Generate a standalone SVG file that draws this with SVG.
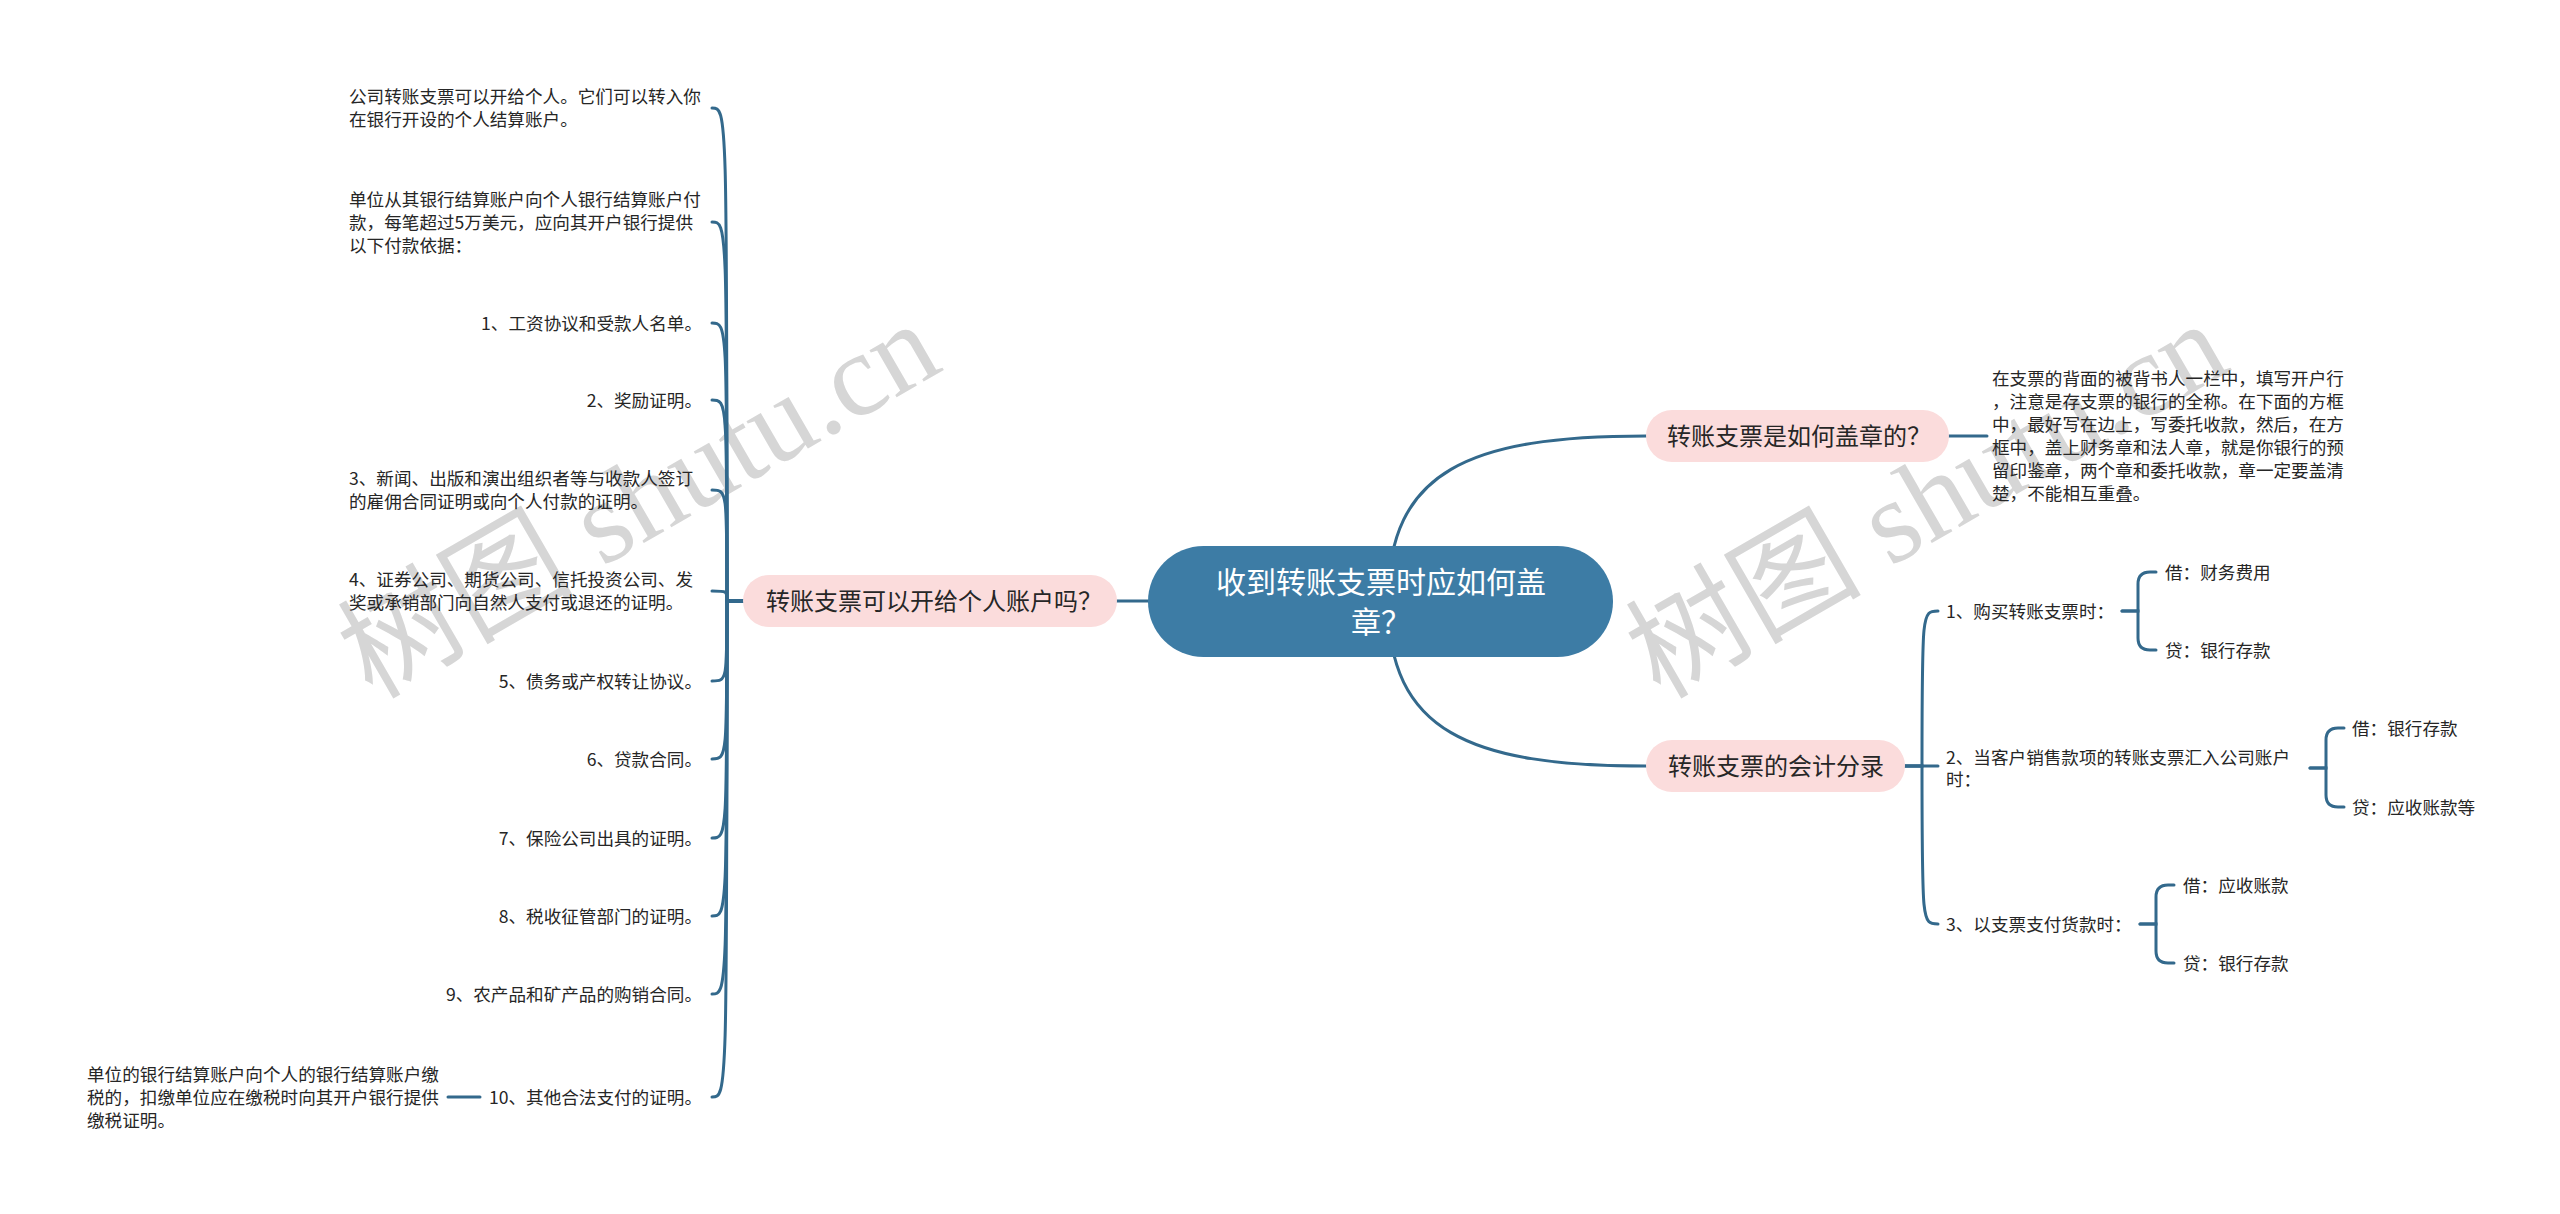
<svg xmlns="http://www.w3.org/2000/svg" width="2560" height="1214" viewBox="0 0 2560 1214">
<style>
.t{font-family:"Noto Sans CJK SC","Noto Sans",sans-serif;font-size:17.6px;fill:#262626}
.e{text-anchor:end}
.pn{fill:#fbdcdc}
.pt{font-family:"Noto Sans CJK SC","Noto Sans",sans-serif;font-size:24px;fill:#262626;text-anchor:middle}
.ct{font-family:"Noto Sans CJK SC","Noto Sans",sans-serif;font-size:30px;fill:#ffffff;text-anchor:middle}
.c{fill:none;stroke:#33698c;stroke-width:3;stroke-linecap:round}
.wm{font-family:"Liberation Serif","Noto Sans CJK SC",serif;font-size:118px;fill:#d6d6d6}
</style>
<rect width="2560" height="1214" fill="#ffffff"/>
<g id="watermarks">
<text class="wm" transform="translate(372,700) rotate(-30)">树图 shutu.cn</text>
<text class="wm" transform="translate(1660,700) rotate(-30)">树图 shutu.cn</text>
</g>
<g id="connectors">
<path class="c" d="M1148,601 H1117"/>
<path class="c" d="M1388,601 C1388,470 1470,436 1646,436"/>
<path class="c" d="M1388,601 C1388,732 1470,766 1646,766"/>
<path class="c" d="M743,601 H727 C727,108 727,108 712,108"/>
<path class="c" d="M743,601 H727 C727,222 727,222 712,222"/>
<path class="c" d="M743,601 H727 C727,323 727,323 712,323"/>
<path class="c" d="M743,601 H727 C727,400 727,400 712,400"/>
<path class="c" d="M743,601 H727 C727,490 727,490 712,490"/>
<path class="c" d="M743,601 H727 C727,591 727,591 712,591"/>
<path class="c" d="M743,601 H727 C727,681 727,681 712,681"/>
<path class="c" d="M743,601 H727 C727,759 727,759 712,759"/>
<path class="c" d="M743,601 H727 C727,838 727,838 712,838"/>
<path class="c" d="M743,601 H727 C727,916 727,916 712,916"/>
<path class="c" d="M743,601 H727 C727,994 727,994 712,994"/>
<path class="c" d="M743,601 H727 C727,1097 727,1097 712,1097"/>
<path class="c" d="M480,1097 H448"/>
<path class="c" d="M1949,436 H1987"/>
<path class="c" d="M1905,766 H1922 C1922,611 1922,611 1938,611"/>
<path class="c" d="M1905,766 H1938"/>
<path class="c" d="M1905,766 H1922 C1922,924 1922,924 1938,924"/>
<path class="c" d="M2122,611 H2138 V584 Q2138,572 2150,572 H2156"/>
<path class="c" d="M2122,611 H2138 V638 Q2138,650 2150,650 H2156"/>
<path class="c" d="M2310,768 H2326 V740 Q2326,728 2338,728 H2344"/>
<path class="c" d="M2310,768 H2326 V795 Q2326,807 2338,807 H2344"/>
<path class="c" d="M2140,924 H2156 V897 Q2156,885 2168,885 H2174"/>
<path class="c" d="M2140,924 H2156 V951 Q2156,963 2168,963 H2174"/>
</g>
<g id="center">
<rect x="1148" y="546" width="465" height="111" rx="55.5" fill="#3d7ca5"/>
<text class="ct" x="1381" y="593">收到转账支票时应如何盖</text>
<text class="ct" x="1381" y="633">章？</text>
</g>
<g id="node-left">
<rect class="pn" x="743" y="575" width="374" height="52" rx="26"/>
<text class="pt" x="934" y="610">转账支票可以开给个人账户吗？</text>
</g>
<g id="node-right1">
<rect class="pn" x="1646" y="410" width="303" height="52" rx="26"/>
<text class="pt" x="1799" y="445">转账支票是如何盖章的？</text>
</g>
<g id="node-right2">
<rect class="pn" x="1646" y="740" width="259" height="52" rx="26"/>
<text class="pt" x="1776" y="775">转账支票的会计分录</text>
</g>
<g id="left-a"><text class="t" x="349" y="103">公司转账支票可以开给个人。它们可以转入你</text><text class="t" x="349" y="126">在银行开设的个人结算账户。</text></g>
<g id="left-b"><text class="t" x="349" y="206">单位从其银行结算账户向个人银行结算账户付</text><text class="t" x="349" y="229">款，每笔超过5万美元，应向其开户银行提供</text><text class="t" x="349" y="252">以下付款依据：</text></g>
<g id="left-1"><text class="t e" x="702" y="330">1、工资协议和受款人名单。</text></g>
<g id="left-2"><text class="t e" x="702" y="407">2、奖励证明。</text></g>
<g id="left-3"><text class="t" x="349" y="485">3、新闻、出版和演出组织者等与收款人签订</text><text class="t" x="349" y="508">的雇佣合同证明或向个人付款的证明。</text></g>
<g id="left-4"><text class="t" x="349" y="586">4、证券公司、期货公司、信托投资公司、发</text><text class="t" x="349" y="609">奖或承销部门向自然人支付或退还的证明。</text></g>
<g id="left-5"><text class="t e" x="702" y="688">5、债务或产权转让协议。</text></g>
<g id="left-6"><text class="t e" x="702" y="766">6、贷款合同。</text></g>
<g id="left-7"><text class="t e" x="702" y="845">7、保险公司出具的证明。</text></g>
<g id="left-8"><text class="t e" x="702" y="923">8、税收征管部门的证明。</text></g>
<g id="left-9"><text class="t e" x="702" y="1001">9、农产品和矿产品的购销合同。</text></g>
<g id="left-10"><text class="t e" x="702" y="1104">10、其他合法支付的证明。</text></g>
<g id="left-10-note"><text class="t" x="87" y="1081">单位的银行结算账户向个人的银行结算账户缴</text><text class="t" x="87" y="1104">税的，扣缴单位应在缴税时向其开户银行提供</text><text class="t" x="87" y="1127">缴税证明。</text></g>
<g id="right1-note"><text class="t" x="1992" y="385">在支票的背面的被背书人一栏中，填写开户行</text><text class="t" x="1992" y="408">，注意是存支票的银行的全称。在下面的方框</text><text class="t" x="1992" y="431">中，最好写在边上，写委托收款，然后，在方</text><text class="t" x="1992" y="454">框中，盖上财务章和法人章，就是你银行的预</text><text class="t" x="1992" y="477">留印鉴章，两个章和委托收款，章一定要盖清</text><text class="t" x="1992" y="500">楚，不能相互重叠。</text></g>
<g id="sub-1"><text class="t" x="1946" y="618">1、购买转账支票时：</text></g>
<g id="sub-1a"><text class="t" x="2165" y="579">借：财务费用</text></g>
<g id="sub-1b"><text class="t" x="2165" y="657">贷：银行存款</text></g>
<g id="sub-2"><text class="t" x="1946" y="764">2、当客户销售款项的转账支票汇入公司账户</text><text class="t" x="1946" y="786">时：</text></g>
<g id="sub-2a"><text class="t" x="2352" y="735">借：银行存款</text></g>
<g id="sub-2b"><text class="t" x="2352" y="814">贷：应收账款等</text></g>
<g id="sub-3"><text class="t" x="1946" y="931">3、以支票支付货款时：</text></g>
<g id="sub-3a"><text class="t" x="2183" y="892">借：应收账款</text></g>
<g id="sub-3b"><text class="t" x="2183" y="970">贷：银行存款</text></g>
</svg>
